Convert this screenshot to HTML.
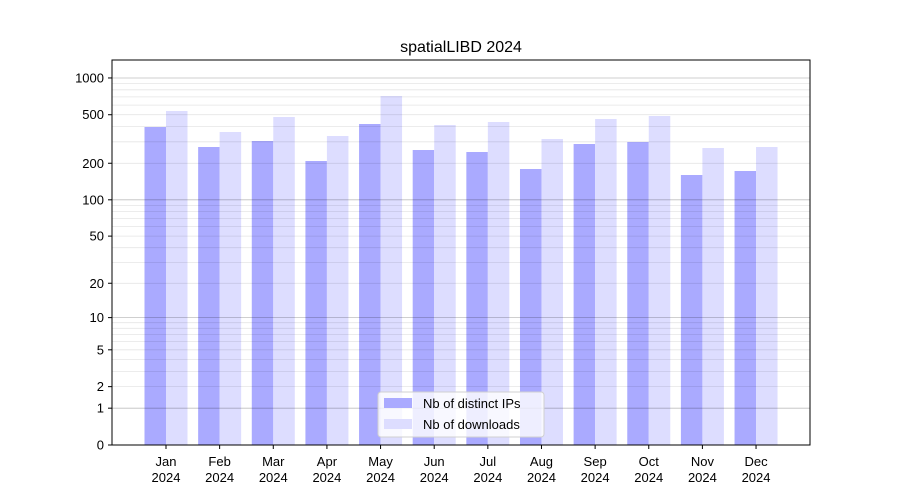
<!DOCTYPE html>
<html><head><meta charset="utf-8"><style>
html,body{margin:0;padding:0;background:#fff}
svg{display:block;font-family:"Liberation Sans","DejaVu Sans",sans-serif}
</style></head><body>
<svg id="c" width="900" height="500" xmlns="http://www.w3.org/2000/svg"></svg>
<script>
var s='';
function Y(v){return 445-122.33*Math.log10(1+v);}
var dk=[127,147,141,161,124,150,152,169,144,142,175,171];
var lt=[111,132,117,136,96,125,122,139,119,116,148,147];
var m=['Jan','Feb','Mar','Apr','May','Jun','Jul','Aug','Sep','Oct','Nov','Dec'];
var t='';
for(var i=0;i<12;i++){var cx=166+i*53.64;
s+='<rect x="'+(cx-21.5)+'" y="'+dk[i]+'" width="21.5" height="'+(445-dk[i])+'" fill="#aaaaff"/>';
s+='<rect x="'+cx+'" y="'+lt[i]+'" width="21.5" height="'+(445-lt[i])+'" fill="#ddddff"/>';
t+='<line x1="'+cx+'" x2="'+cx+'" y1="445" y2="449" stroke="#000"/>';
t+='<text x="'+cx+'" y="466" font-size="13" text-anchor="middle">'+m[i]+'</text><text x="'+cx+'" y="482" font-size="13" text-anchor="middle">2024</text>';}
var minors=[];
for(var d=1;d<=100;d*=10)for(var k=2;k<=9;k++)minors.push(k*d);
minors.forEach(function(v){var y=Y(v).toFixed(1);s+='<line x1="112" x2="810" y1="'+y+'" y2="'+y+'" stroke="#000" stroke-opacity="0.1" stroke-width="0.8"/>';});
[1,10,100,1000].forEach(function(v){var y=Y(v).toFixed(1);s+='<line x1="112" x2="810" y1="'+y+'" y2="'+y+'" stroke="#000" stroke-opacity="0.25" stroke-width="0.8"/>';});
s+=t;
[0,1,2,5,10,20,50,100,200,500,1000].forEach(function(v){var y=Y(v);
s+='<line x1="108" x2="112" y1="'+y+'" y2="'+y+'" stroke="#000"/><text x="104" y="'+(y+4.5)+'" font-size="13" text-anchor="end">'+v+'</text>';});
s+='<rect x="112" y="60" width="698" height="385" fill="none" stroke="#000" stroke-width="1"/>';
s+='<text x="461" y="52" font-size="16" text-anchor="middle">spatialLIBD 2024</text>';
s+='<rect x="378" y="392" width="166" height="45" rx="3" fill="#fff" fill-opacity="0.8" stroke="#d0d0d0"/>';
s+='<rect x="384" y="398" width="28" height="10" fill="#aaaaff"/><text x="423" y="408" font-size="13">Nb of distinct IPs</text>';
s+='<rect x="384" y="419" width="28" height="10" fill="#ddddff"/><text x="423" y="429" font-size="13">Nb of downloads</text>';
document.getElementById('c').innerHTML=s;
</script>
</body></html>
